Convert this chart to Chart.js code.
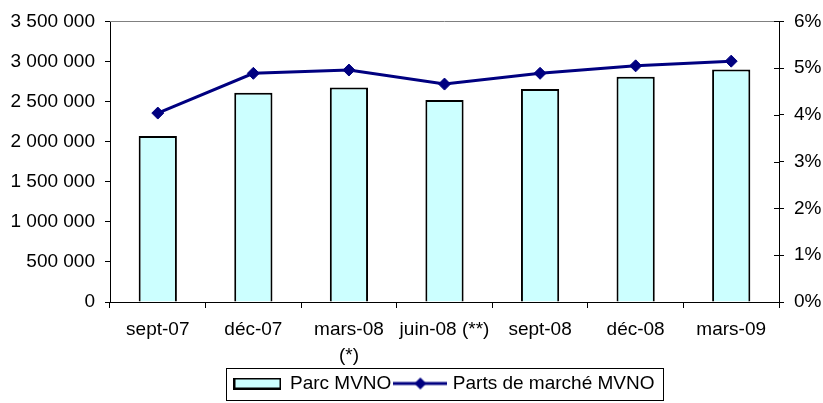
<!DOCTYPE html>
<html>
<head>
<meta charset="utf-8">
<script src="https://cdn.jsdelivr.net/npm/chart.js@4/dist/chart.umd.min.js"></script>
<style>
    html, body { margin: 0; padding: 0; background: #fff; }
    #wrap { width: 823px; height: 403px; }
</style>
</head>
<body>
<div id="wrap"><canvas id="chart" width="823" height="403"></canvas></div>
<script>
// Data
const categories = ['sept-07', 'déc-07', ['mars-08', '(*)'], 'juin-08 (**)', 'sept-08', 'déc-08', 'mars-09'];
const parcMVNO = [2072000, 2611000, 2677000, 2519000, 2656000, 2809000, 2899000];
const partsMarche = [4.04, 4.89, 4.96, 4.66, 4.89, 5.05, 5.15];
const leftTicks = [0, 500000, 1000000, 1500000, 2000000, 2500000, 3000000, 3500000];
const rightTicks = [0, 1, 2, 3, 4, 5, 6];
const seriesNames = ['Parc MVNO', 'Parts de marché MVNO'];

const BAR_FILL = '#CCFFFF';
const LINE_COLOR = '#000080';

Chart.defaults.font.family = "'Liberation Sans', Arial, sans-serif";
Chart.defaults.font.size = 19;
Chart.defaults.color = '#000';

const fmt = v => String(v).replace(/\B(?=(\d{3})+(?!\d))/g, ' ');

// Legend icons
function barIcon() {
    const c = document.createElement('canvas');
    c.width = 48; c.height = 12;
    const g = c.getContext('2d');
    g.fillStyle = BAR_FILL;
    g.fillRect(1, 1, 46, 10);
    g.strokeStyle = '#000';
    g.lineWidth = 2;
    g.strokeRect(1, 1, 46, 10);
    return c;
}
function lineIcon() {
    const c = document.createElement('canvas');
    c.width = 54; c.height = 14;
    const g = c.getContext('2d');
    g.strokeStyle = LINE_COLOR;
    g.lineWidth = 3;
    g.beginPath(); g.moveTo(0, 7); g.lineTo(54, 7); g.stroke();
    g.fillStyle = LINE_COLOR;
    g.beginPath();
    g.moveTo(27 - 6, 7); g.lineTo(27, 1); g.lineTo(27 + 6, 7); g.lineTo(27, 13);
    g.closePath(); g.fill();
    return c;
}

// Grey top line of the plot area, cross ticks on the right axis, legend frame
const framePlugin = {
    id: 'frame',
    afterDraw(chart) {
        const { ctx, chartArea: a, legend, scales } = chart;
        ctx.save();
        ctx.strokeStyle = '#808080';
        ctx.lineWidth = 1;
        ctx.beginPath();
        ctx.moveTo(a.left, Math.round(a.top) + 0.5);
        ctx.lineTo(a.right, Math.round(a.top) + 0.5);
        ctx.stroke();

        // inner half of the right axis ticks
        ctx.strokeStyle = '#000';
        ctx.beginPath();
        scales.y1.ticks.forEach(t => {
            const py = Math.round(scales.y1.getPixelForValue(t.value)) + 0.5;
            ctx.moveTo(a.right - 5, py);
            ctx.lineTo(a.right, py);
        });
        ctx.stroke();

        const boxes = legend.legendHitBoxes;
        if (boxes && boxes.length) {
            const l = Math.min(...boxes.map(b => b.left)) - 8;
            const r = Math.max(...boxes.map(b => b.left + b.width)) + 9;
            const t = Math.min(...boxes.map(b => b.top)) - 6;
            const bt = Math.max(...boxes.map(b => b.top + b.height)) + 7;
            ctx.strokeStyle = '#000';
            ctx.strokeRect(Math.round(l) + 0.5, Math.round(t) + 0.5, Math.round(r - l), Math.round(bt - t));
        }
        ctx.restore();
    }
};

const ctx = document.getElementById('chart').getContext('2d');
new Chart(ctx, {
    type: 'bar',
    data: {
        labels: categories,
        datasets: [{
            label: seriesNames[0],
            data: parcMVNO,
            yAxisID: 'y',
            backgroundColor: BAR_FILL,
            borderColor: '#000',
            borderWidth: 2,
            barPercentage: 0.4,
            categoryPercentage: 1,
            order: 1
        }, {
            type: 'line',
            label: seriesNames[1],
            data: partsMarche,
            yAxisID: 'y1',
            borderColor: LINE_COLOR,
            borderWidth: 3,
            pointStyle: 'rectRot',
            pointRadius: 6,
            pointHoverRadius: 6,
            pointBackgroundColor: LINE_COLOR,
            pointBorderColor: LINE_COLOR,
            pointBorderWidth: 1,
            tension: 0,
            order: 0
        }]
    },
    options: {
        responsive: false,
        animation: false,
        layout: { padding: { top: 20, bottom: 0, left: 0, right: 0 } },
        plugins: {
            tooltip: { enabled: false },
            legend: {
                position: 'bottom',
                fullSize: false,
                labels: {
                    usePointStyle: true,
                    pointStyleWidth: 46,
                    padding: 6,
                    font: { size: 19 },
                    generateLabels: () => [
                        { text: seriesNames[0], pointStyle: barIcon(), datasetIndex: 0, hidden: false, lineWidth: 0 },
                        { text: seriesNames[1], pointStyle: lineIcon(), datasetIndex: 1, hidden: false, lineWidth: 0 }
                    ]
                }
            }
        },
        scales: {
            x: {
                offset: true,
                grid: { offset: true, drawOnChartArea: false, drawTicks: true, tickLength: 6, color: '#000' },
                border: { display: true, color: '#000', width: 1 },
                ticks: { padding: 9, maxRotation: 0, autoSkip: false, font: { size: 19, lineHeight: 1.37 } },
                afterFit(s) { s.height = 66; }
            },
            y: {
                position: 'left',
                min: 0,
                max: 3500000,
                afterBuildTicks(s) { s.ticks = leftTicks.map(v => ({ value: v })); },
                ticks: { padding: 10, callback: v => fmt(v) },
                grid: { drawOnChartArea: false, tickLength: 5, color: '#000' },
                border: { display: true, color: '#000' },
                afterFit(s) { s.width = 110; }
            },
            y1: {
                position: 'right',
                min: 0,
                max: 6,
                afterBuildTicks(s) { s.ticks = rightTicks.map(v => ({ value: v })); },
                ticks: { padding: 10, callback: v => v + '%' },
                grid: { drawOnChartArea: false, tickLength: 5, color: '#000' },
                border: { display: true, color: '#000' },
                afterFit(s) { s.width = 44; }
            }
        }
    },
    plugins: [framePlugin]
});
</script>
</body>
</html>
